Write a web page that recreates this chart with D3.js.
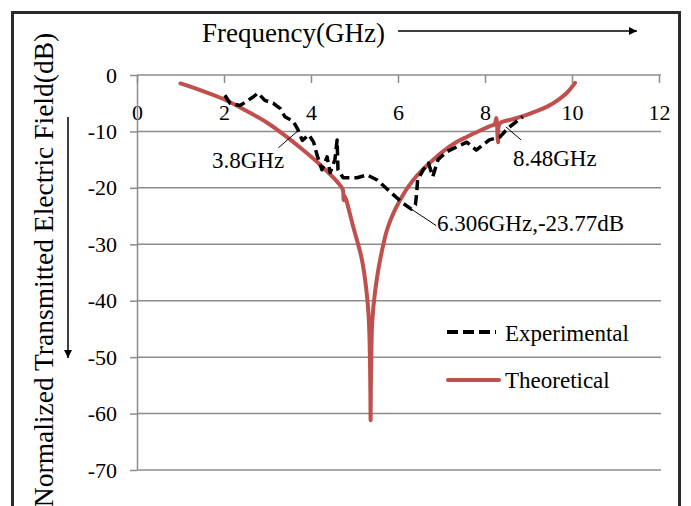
<!DOCTYPE html>
<html>
<head>
<meta charset="utf-8">
<script src="https://cdn.jsdelivr.net/npm/d3@7"></script>
<style>
  body { margin: 0; background: #fff; }
  text { font-family: "Liberation Serif", "Times New Roman", serif; fill: #000; }
</style>
</head>
<body>
<div id="chart"></div>
<script>
'use strict';

// frequency (GHz), level (dB)
var theoretical = [
  [1.0, -1.5], [1.5, -2.8], [2.0, -4.3], [2.5, -6.3], [3.0, -8.5], [3.45, -11.0],
  [3.82, -13.3], [4.21, -15.9], [4.6, -18.9], [4.73, -20.3], [4.75, -22.2],
  [4.77, -21.4], [4.97, -26.9], [5.17, -32.7], [5.28, -38.6], [5.33, -43.5],
  [5.355, -50.0], [5.365, -56.0], [5.37, -61.2], [5.375, -56.0], [5.385, -50.0],
  [5.41, -43.5], [5.47, -38.6], [5.59, -32.7], [5.77, -26.9], [6.05, -22.1],
  [6.35, -18.6], [6.81, -15.0], [7.3, -12.1], [7.6, -10.9], [7.9, -9.8],
  [8.1, -9.1], [8.22, -8.7], [8.26, -7.6], [8.30, -11.9], [8.34, -8.6],
  [8.6, -7.9], [8.87, -7.3], [9.15, -6.5], [9.43, -5.6], [9.7, -4.3],
  [9.89, -3.1], [10.07, -1.4]
];

var experimental = [
  [2.02, -3.6], [2.14, -5.0], [2.37, -5.4], [2.67, -3.9], [2.78, -3.2], [2.94, -4.5],
  [3.13, -5.0], [3.29, -5.9], [3.40, -7.4], [3.59, -8.2], [3.70, -9.7], [3.80, -11.6],
  [3.95, -10.6], [4.06, -11.9], [4.14, -14.2], [4.25, -16.8], [4.37, -14.5],
  [4.44, -17.3], [4.55, -15.0], [4.60, -11.5], [4.62, -16.8], [4.74, -18.2],
  [5.06, -18.2], [5.29, -17.7], [5.52, -18.6], [5.82, -20.7], [6.11, -22.7],
  [6.306, -23.77], [6.40, -23.0], [6.43, -20.9], [6.45, -18.6], [6.58, -16.8],
  [6.70, -15.6], [6.80, -18.0], [6.92, -15.0], [7.12, -13.6], [7.36, -12.7],
  [7.58, -11.9], [7.80, -13.3], [8.10, -11.5], [8.34, -11.0], [8.53, -9.4],
  [8.87, -7.4]
];

var xTicks = [0, 2, 4, 6, 8, 10, 12];
var yTicks = [0, -10, -20, -30, -40, -50, -60, -70];

var seriesNames = ['Experimental', 'Theoretical'];

// label text, [f, dB] of marked point, [f, dB] where the leader ends
var notes = [
  ['3.8GHz', [3.70, -9.9], [3.25, -12.9]],
  ['6.306GHz,-23.77dB', [6.306, -23.77], [6.88, -26.7]],
  ['8.48GHz', [8.48, -9.2], [8.83, -11.5]]
];

var width = 691, height = 506;

var svg = d3.select('#chart')
            .append('svg')
            .attr('width', width)
            .attr('height', height);

var x = d3.scaleLinear().domain([0, 12]).range([137, 659]);
var y = d3.scaleLinear().domain([0, -70]).range([75, 470]);

// outer frame
svg.append('rect')
   .attr('x', 12.5)
   .attr('y', 12.5)
   .attr('width', 667)
   .attr('height', 520)
   .attr('fill', 'none')
   .attr('stroke', '#2b2b2b')
   .attr('stroke-width', 3);

// gridlines
svg.append('g')
   .selectAll('line')
   .data(yTicks.slice(1))
   .enter().append('line')
   .attr('x1', x(0))
   .attr('x2', x(12) + 2)
   .attr('y1', function(d) { return y(d); })
   .attr('y2', function(d) { return y(d); })
   .attr('stroke', '#8c8c8c')
   .attr('stroke-width', 1.5);

// plain hyphen for negatives, like the original
var plain = function(d) { return String(d); };

// x axis sits on the 0 dB line
var xAxis = svg.append('g')
   .attr('transform', 'translate(0,' + y(0) + ')')
   .call(d3.axisBottom(x).tickValues(xTicks).tickFormat(plain)
           .tickSizeInner(8).tickSizeOuter(0).tickPadding(21));

var yAxis = svg.append('g')
   .attr('transform', 'translate(' + x(0) + ',0)')
   .call(d3.axisLeft(y).tickValues(yTicks).tickFormat(plain)
           .tickSizeInner(7).tickSizeOuter(0).tickPadding(13));

[xAxis, yAxis].forEach(function(ax) {
  ax.select('.domain').attr('stroke', '#8c8c8c').attr('stroke-width', 1.5);
  ax.selectAll('.tick line').attr('stroke', '#8c8c8c').attr('stroke-width', 1.5);
  ax.selectAll('.tick text')
    .style('font-family', '"Liberation Serif", "Times New Roman", serif')
    .style('font-size', '22px')
    .attr('fill', '#000');
});
xAxis.select('.domain').attr('d', 'M' + x(0) + ',0H' + (x(12) + 2));

var line = d3.line()
             .x(function(d) { return x(d[0]); })
             .y(function(d) { return y(d[1]); });

svg.append('path')
   .datum(theoretical)
   .attr('d', line.curve(d3.curveCatmullRom.alpha(0.5)))
   .attr('fill', 'none')
   .attr('stroke', '#c0504d')
   .attr('stroke-width', 4)
   .attr('stroke-linecap', 'round')
   .attr('stroke-linejoin', 'round');

svg.append('path')
   .datum(experimental)
   .attr('d', line.curve(d3.curveLinear))
   .attr('fill', 'none')
   .attr('stroke', '#000')
   .attr('stroke-width', 3.5)
   .attr('stroke-dasharray', '10,5')
   .attr('stroke-linejoin', 'round');

// annotations
notes.forEach(function(n) {
  svg.append('line')
     .attr('x1', x(n[1][0])).attr('y1', y(n[1][1]))
     .attr('x2', x(n[2][0])).attr('y2', y(n[2][1]))
     .attr('stroke', '#000')
     .attr('stroke-width', 1);
});
svg.append('text').attr('x', 212).attr('y', 168).style('font-size', '23px').text(notes[0][0]);
svg.append('text').attr('x', 437).attr('y', 231).style('font-size', '23px').text(notes[1][0]);
svg.append('text').attr('x', 513).attr('y', 166).style('font-size', '23px').text(notes[2][0]);

// legend
var legend = svg.append('g');
legend.append('line')
      .attr('x1', 447).attr('x2', 496).attr('y1', 332).attr('y2', 332)
      .attr('stroke', '#000').attr('stroke-width', 4).attr('stroke-dasharray', '11,5');
legend.append('line')
      .attr('x1', 448).attr('x2', 499).attr('y1', 380).attr('y2', 380)
      .attr('stroke', '#c0504d').attr('stroke-width', 4).attr('stroke-linecap', 'round');
legend.append('text').attr('x', 505).attr('y', 341).style('font-size', '23px').text(seriesNames[0]);
legend.append('text').attr('x', 505).attr('y', 388).style('font-size', '23px').text(seriesNames[1]);

// axis titles with arrows
svg.append('defs').append('marker')
   .attr('id', 'head')
   .attr('viewBox', '0 0 10 10')
   .attr('refX', 10).attr('refY', 5)
   .attr('markerWidth', 10).attr('markerHeight', 8)
   .attr('markerUnits', 'userSpaceOnUse')
   .attr('orient', 'auto')
   .append('path')
   .attr('d', 'M0,0L10,5L0,10Z')
   .attr('fill', '#000');

svg.append('text')
   .attr('x', 202)
   .attr('y', 42)
   .style('font-size', '27px')
   .text('Frequency(GHz)');

svg.append('line')
   .attr('x1', 398).attr('x2', 637).attr('y1', 31).attr('y2', 31)
   .attr('stroke', '#000').attr('stroke-width', 1.5)
   .attr('marker-end', 'url(#head)');

svg.append('text')
   .attr('transform', 'translate(53,270) rotate(-90)')
   .attr('text-anchor', 'middle')
   .style('font-size', '27.5px')
   .text('Normalized Transmitted Electric Field(dB)');

svg.append('line')
   .attr('x1', 68).attr('x2', 68).attr('y1', 117).attr('y2', 358)
   .attr('stroke', '#000').attr('stroke-width', 1.5)
   .attr('marker-end', 'url(#head)');
</script>
</body>
</html>
